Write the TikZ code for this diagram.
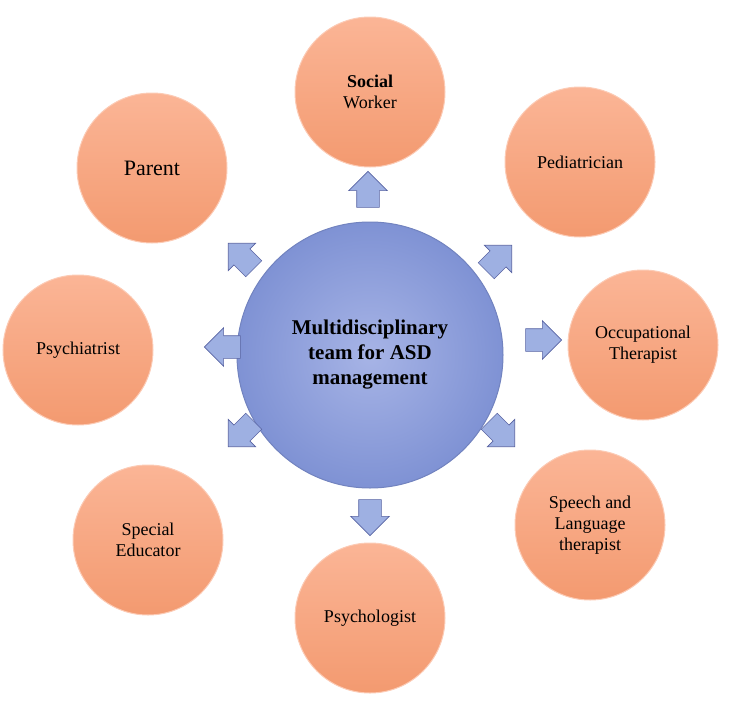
\documentclass[tikz,border=0pt]{standalone}
\usepackage{fontspec}
\setmainfont{Liberation Serif}
\usetikzlibrary{shapes.arrows}
\definecolor{orin}{HTML}{FBB596}
\definecolor{orout}{HTML}{F39A70}
\definecolor{bcin}{HTML}{A7B4E6}
\definecolor{bcout}{HTML}{7F92D4}
\definecolor{arr}{HTML}{9EB0E2}
\begin{document}
\begin{tikzpicture}[x=1pt,y=-1pt,
  outer/.style={circle,minimum size=150pt,inner sep=0pt,align=center,
    draw=orin!70!white,line width=1pt,top color=orin,bottom color=orout,
    font=\fontsize{18}{21}\selectfont},
  blk/.style={single arrow,minimum height=36pt,minimum width=38pt,
    single arrow head extend=8pt,inner xsep=0pt,inner ysep=11pt,fill=arr,
    draw=arr!80!blue!70!black,line width=0.6pt}]
\useasboundingbox (0,0) rectangle (750,712);
\node[circle,minimum size=266pt,inner sep=0pt,draw=bcout!90!black,line width=1pt,
  inner color=bcin,outer color=bcout,align=center,
  font=\bfseries\fontsize{21}{25}\selectfont] (c) at (370,355)
  {Multidisciplinary\\team for ASD\\management};
\node[outer] (sw) at (370,92) {\textbf{Social}\\Worker};
\node[outer] (pe) at (580,162) {Pediatrician};
\node[outer] (ot) at (643,345) {Occupational\\Therapist};
\node[outer] (sl) at (590,525) {Speech and\\Language\\therapist};
\node[outer] (ps) at (370,618) {Psychologist};
\node[outer] (se) at (148,540) {Special\\Educator};
\node[outer] (pc) at (78,350) {Psychiatrist};
\node[outer,font=\fontsize{22}{26}\selectfont] (pa) at (152,168) {Parent};
\node[blk,rotate=90] (a1) at (368,195) {};
\node[blk,rotate=45] (a2) at (495,262) {};
\node[blk,rotate=0] (a3) at (538,340) {};
\node[blk,rotate=-45] (a4) at (498,430) {};
\node[blk,rotate=-90] (a5) at (370,512) {};
\node[blk,rotate=-135] (a6) at (245,430) {};
\node[blk,rotate=180] (a7) at (228,347) {};
\node[blk,rotate=135] (a8) at (245,260) {};
\end{tikzpicture}
\end{document}
